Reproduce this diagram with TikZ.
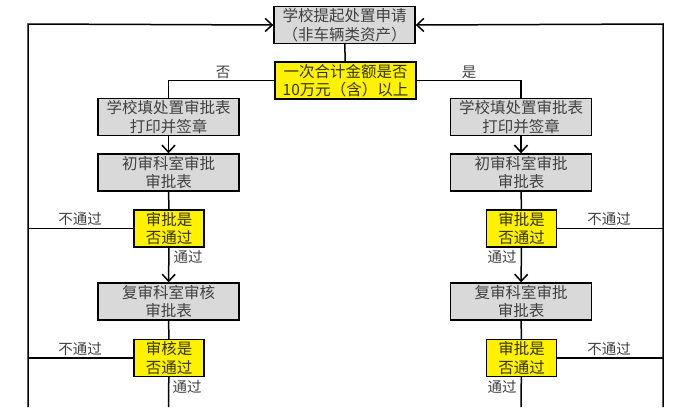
\documentclass[tikz,border=0pt]{standalone}
\usepackage{fontspec}
\setmainfont{Noto Sans CJK SC}
\usepackage{tikz}
\usetikzlibrary{arrows.meta}

\definecolor{boxgray}{HTML}{D9D9D9}
\definecolor{txtgray}{HTML}{404040}
\definecolor{txtolive}{HTML}{333300}

\tikzset{
  graybox/.style={draw, line width=1.4pt, fill=boxgray, text=txtgray, align=center,
    minimum width=141pt, minimum height=37pt, inner sep=0pt,
    font=\fontsize{15.5}{18.5}\selectfont},
  yellowbox/.style={graybox, fill=yellow, text=txtolive},
  smallyes/.style={yellowbox, minimum width=70pt},
  flow/.style={line width=1.5pt},
  arr/.style={flow, -{Straight Barb[length=7pt,width=13pt]}},
  lbl/.style={text=txtgray, font=\fontsize{14.5}{16}\selectfont, inner sep=0pt}
}

\begin{document}
\begin{tikzpicture}[x=1pt,y=-1pt]
\useasboundingbox (0,0) rectangle (684,407);

% top
\node[graybox] (start) at (344.5,25) {学校提起处置申请\\（非车辆类资产）};
\node[yellowbox] (check) at (345.5,80.5) {一次合计金额是否\\10万元（含）以上};
\draw[flow] (start) -- (check);

% left branch
\node[graybox] (lfill) at (168.5,117) {学校填处置审批表\\打印并签章};
\node[graybox] (lfirst) at (168.5,172.5) {初审科室审批\\审批表};
\node[smallyes] (lok1) at (169,228.5) {审批是\\否通过};
\node[graybox] (lsecond) at (168.5,301.5) {复审科室审核\\审批表};
\node[smallyes] (lok2) at (169,358) {审核是\\否通过};

% right branch
\node[graybox] (rfill) at (521,117) {学校填处置审批表\\打印并签章};
\node[graybox] (rfirst) at (521,172.5) {初审科室审批\\审批表};
\node[smallyes] (rok1) at (521.5,228.5) {审批是\\否通过};
\node[graybox] (rsecond) at (521,301.5) {复审科室审批\\审批表};
\node[smallyes] (rok2) at (521.5,358) {审批是\\否通过};

\coordinate (ltop) at (28,24);
\coordinate (lbot) at (28,407);
\coordinate (rtop) at (663,24);
\coordinate (rbot) at (663,407);
\coordinate (lend) at (168.5,407);
\coordinate (rend) at (521,407);

% decision split
\draw[flow] (check.west) -| (lfill.north);
\draw[flow] (check.east) -| (rfill.north);
\node[lbl] (no) at (223,72) {否};
\node[lbl] (yes) at (469,72) {是};

\draw[arr] (lfill) -- (lfirst);
\draw[flow] (lfirst) -- (lok1);
\draw[arr] (lok1) -- (lsecond);
\draw[flow] (lsecond) -- (lok2);
\draw[flow] (lok2) -- (lend);

\draw[arr] (rfill) -- (rfirst);
\draw[flow] (rfirst) -- (rok1);
\draw[arr] (rok1) -- (rsecond);
\draw[flow] (rsecond) -- (rok2);
\draw[flow] (rok2) -- (rend);

% return rails
\draw[arr] (lbot) -- (ltop) -- (start.west);
\draw[arr] (rbot) -- (rtop) -- (start.east);
\draw[flow] (lok1.west) -- (lok1.west -| ltop);
\draw[flow] (lok2.west) -- (lok2.west -| ltop);
\draw[flow] (rok1.east) -- (rok1.east -| rtop);
\draw[flow] (rok2.east) -- (rok2.east -| rtop);

\node[lbl] (lno1) at (80,219) {不通过};
\node[lbl] (lno2) at (80,349) {不通过};
\node[lbl] (rno1) at (609,219) {不通过};
\node[lbl] (rno2) at (609,349) {不通过};
\node[lbl] (lpass1) at (188,257) {通过};
\node[lbl] (lpass2) at (187,387) {通过};
\node[lbl] (rpass1) at (502,257) {通过};
\node[lbl] (rpass2) at (502,387) {通过};
\end{tikzpicture}
\end{document}
